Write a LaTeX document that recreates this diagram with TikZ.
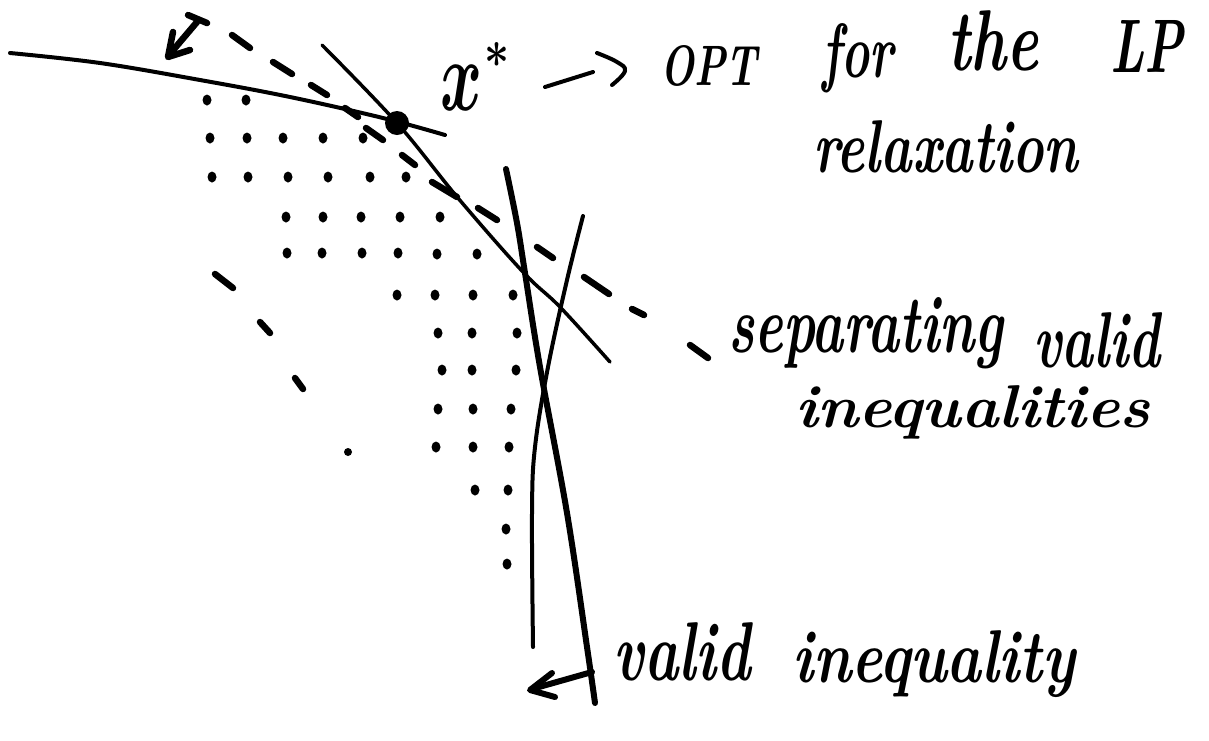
\documentclass[tikz,border=0pt]{standalone}
\usepackage{graphicx}
\usepackage{amsmath}
\newcommand{\hwtext}[3]{\resizebox{#1pt}{#2pt}{\bfseries\itshape #3}}
\begin{document}
\begin{tikzpicture}[x=1pt,y=-1pt,
  pen/.style={line width=4pt, line cap=round, line join=round},
  thinpen/.style={line width=3.5pt, line cap=round, line join=round},
  thickpen/.style={line width=6pt, line cap=round, line join=round},
  dsh/.style={line width=6.5pt, line cap=round},
  lbl/.style={inner sep=0pt, anchor=base west}]
\useasboundingbox (0,0) rectangle (1209,740);
\fill[white] (0,0) rectangle (1209,740);

% LP constraint (solid curve) ending near x*
\draw[pen] plot[smooth, tension=0.6] coordinates {(10,53) (100,63) (200,80) (290,97) (383,118) (445,135)};
% steep separating line through x*
\draw[thinpen] plot[smooth, tension=0.6] coordinates {(322,45) (397,123) (458,198) (523,272) (560,307) (610,362)};
% valid inequality (thick)
\draw[thickpen] plot[smooth, tension=0.6] coordinates {(506,169) (517,223) (525,273) (540,367) (567,513) (587,647) (595,703)};
% second crossing line
\draw[pen] plot[smooth, tension=0.6] coordinates {(583,216) (567,280) (548,367) (535,447) (532,513) (533,647)};

% x* point
\fill (397,123) circle (12);

% dashed separating inequality
\foreach \a/\b/\c/\d in {232/35/250/48, 273/62/292/74, 311/85/327/95, 345/108/358/117,
  366/128/383/140, 402/155/415/165, 432/182/457/197, 478/208/497/220, 537/247/553/258,
  584/277/609/294, 632/309/644/315, 690/345/708/358}
  \draw[dsh] (\a,\b) -- (\c,\d);
% left dashed boundary
\foreach \a/\b/\c/\d in {215/274/233/288, 260/322/270/333, 295/378/303/389}
  \draw[dsh] (\a,\b) -- (\c,\d);
\fill (348,452) circle (4);

% integer points
\foreach \x/\y in {207/100, 246/100,
  210/138, 247/138, 283/138, 323/138, 363/138,
  212/177, 248/177, 288/177, 328/177, 370/177, 406/177,
  286/217, 323/217, 361/217, 400/217, 440/217,
  287/253, 322/253, 362/253, 398/253, 437/254, 477/254,
  397/295, 435/295, 473/295, 513/295,
  438/333, 472/333, 517/333,
  442/370, 472/370, 516/370,
  438/409, 473/409, 511/409,
  436/447, 473/447, 509/447,
  475/490, 508/490,
  506/529,
  507/564}
  \fill (\x,\y) ellipse (4.5 and 5.5);

% direction arrow at top left
\coordinate (tA) at (188,15);
\coordinate (tB) at (207,23);
\coordinate (sA) at (197,22);
\coordinate (sB) at (169,55);
\draw[dsh] (tA) -- (tB);
\draw[dsh] (sA) -- (sB);
\draw[dsh, line join=round] (173,32) -- (168,57) -- (190,50);

% x* label and arrow to OPT
\node[lbl] (xs) at (440,110) {\resizebox{42pt}{45pt}{$\boldsymbol{x}$}};
\node[inner sep=0pt] (star) at (497,55) {\resizebox{25pt}{25pt}{$\boldsymbol{\ast}$}};
\coordinate (aS) at (545,87);
\coordinate (aE) at (593,72);
\draw[pen] (aS) -- (aE);
\draw[pen] plot[smooth, tension=0.7] coordinates {(597,53) (617,62) (625,71) (612,85)};

\node[lbl] (opt) at (660,85) {\hwtext{97}{40}{OPT}};
\node[lbl] (for) at (822,77) {\hwtext{71}{54}{for}};
\node[lbl] (the) at (947,70) {\hwtext{91}{60}{the}};
\node[lbl] (lp) at (1110,72) {\hwtext{73}{52}{LP}};
\node[lbl] (relax) at (813,172) {\hwtext{265}{52}{relaxation}};

\node[lbl] (sep) at (728,352) {\hwtext{275}{55}{separating}};
\node[lbl] (sepvalid) at (1033,367) {\hwtext{127}{55}{valid}};
\node[lbl] (ineqs) at (795,427) {\hwtext{355}{42}{inequalities}};

% bottom arrow and label
\coordinate (bS) at (592,672);
\coordinate (bE) at (532,689);
\draw[thickpen] (bS) -- (bE);
\draw[thickpen] (552,673) -- (530,690) -- (555,697);
\node[lbl] (valid) at (613,680) {\hwtext{137}{58}{valid}};
\node[lbl] (ineq) at (792,682) {\hwtext{283}{52}{inequality}};
\end{tikzpicture}
\end{document}
